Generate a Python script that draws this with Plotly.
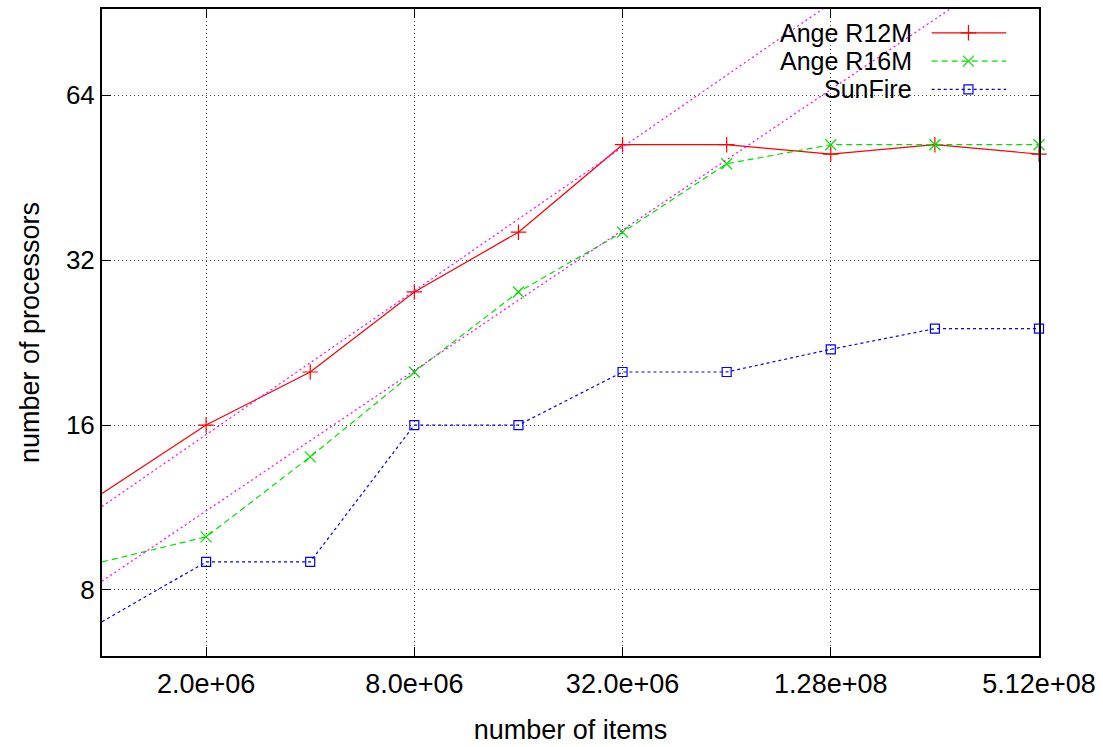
import math
import plotly.graph_objects as go

# ---- data ----
items = [1e6, 2e6, 4e6, 8e6, 16e6, 32e6, 64e6, 128e6, 256e6, 512e6]
ange_r12m = [12, 16, 20, 28, 36, 52, 52, 50, 52, 50]
ange_r16m = [9, 10, 14, 20, 28, 36, 48, 52, 52, 52]
sunfire = [7, 9, 9, 16, 16, 20, 20, 22, 24, 24]

# power-law fit lines f(x) = a * (x/1e6)^b
fit_r12m_a, fit_r12m_b = 11.36, 0.436
fit_r16m_a, fit_r16m_b = 8.3, 0.426

x_tickvals = [2e6, 8e6, 32e6, 1.28e8, 5.12e8]
x_ticktext = ["2.0e+06", "8.0e+06", "32.0e+06", "1.28e+08", "5.12e+08"]
y_tickvals = [8, 16, 32, 64]
y_ticktext = ["8", "16", "32", "64"]

series_names = ["Ange R12M", "Ange R16M", "SunFire"]

FONT = "Liberation Sans"
W, H = 1103, 747
L, R, T, B = 102, 58, 7, 88

fig = go.Figure()

styles = [
    dict(color="#ff0000", dash="solid", symbol="cross-thin", size=11),
    dict(color="#00e000", dash="6px,4px", symbol="x-thin", size=11),
    dict(color="#0000ff", dash="3px,3px", symbol="square-open", size=9),
]
for name, ys, st in zip(series_names, [ange_r12m, ange_r16m, sunfire], styles):
    fig.add_trace(go.Scatter(
        x=items, y=ys, mode="lines+markers", name=name, showlegend=False,
        line=dict(color=st["color"], width=1.2, dash=st["dash"]),
        marker=dict(symbol=st["symbol"], size=st["size"], color=st["color"],
                    line=dict(color=st["color"], width=1.2)),
        cliponaxis=False,
    ))

# fit lines (straight on log-log axes)
x_ends = [items[0], items[-1]]
for a, b in [(fit_r12m_a, fit_r12m_b), (fit_r16m_a, fit_r16m_b)]:
    fig.add_trace(go.Scatter(
        x=x_ends, y=[a * (xx / 1e6) ** b for xx in x_ends], mode="lines",
        showlegend=False, line=dict(color="#ff00ff", width=1.2, dash="2px,3px"),
    ))

# ---- manual gnuplot-style key (text right-aligned, sample on the right) ----
pw = W - L - R
ph = H - T - B
def px(xp):
    return (xp - L) / pw
def py(yp):
    return (H - B - yp) / ph

key_rows = [31, 59.5, 88]
key_text_x = 918
key_line = (937, 1012)
key_mark = 974

fig.add_shape(type="rect", xref="paper", yref="paper", layer="between",
              x0=px(770), x1=px(1028), y0=py(100), y1=1.0,
              fillcolor="white", line=dict(width=0))

for name, st, ry in zip(series_names, styles, key_rows):
    fig.add_annotation(x=px(key_text_x), y=py(ry), xref="paper", yref="paper",
                       text=name, showarrow=False, xanchor="right", yanchor="middle",
                       borderpad=0,
                       font=dict(family=FONT, size=25, color="black"))
    fig.add_trace(go.Scatter(
        x=[px(key_line[0]), px(key_line[1])], y=[py(ry), py(ry)], mode="lines",
        xaxis="x2", yaxis="y2", showlegend=False, hoverinfo="skip",
        line=dict(color=st["color"], width=1.2, dash=st["dash"]),
    ))
    fig.add_trace(go.Scatter(
        x=[px(key_mark)], y=[py(ry)], mode="markers",
        xaxis="x2", yaxis="y2", showlegend=False, hoverinfo="skip",
        marker=dict(symbol=st["symbol"], size=st["size"], color=st["color"],
                    line=dict(color=st["color"], width=1.2)),
    ))

axis_common = dict(
    showline=True, linecolor="black", linewidth=2, mirror="ticks",
    ticks="inside", ticklen=9, tickwidth=1, tickcolor="black",
    showgrid=True, gridcolor="#444444", gridwidth=1, griddash="1px,3px",
    zeroline=False,
)

fig.update_layout(
    width=W, height=H,
    margin=dict(l=L, r=R, t=T, b=B),
    plot_bgcolor="white", paper_bgcolor="white",
    xaxis=dict(type="log", range=[math.log10(1e6), math.log10(5.12e8)],
               tickvals=x_tickvals, ticktext=x_ticktext,
               tickfont=dict(family=FONT, size=27, color="black"),
               ticklabelstandoff=3,
               title=dict(text="number of items", font=dict(family=FONT, size=27, color="black"),
                          standoff=22),
               **axis_common),
    yaxis=dict(type="log", range=[math.log10(6.06), math.log10(92)],
               tickvals=y_tickvals, ticktext=y_ticktext,
               tickfont=dict(family=FONT, size=26, color="black"),
               title=dict(text="number of processors", font=dict(family=FONT, size=27, color="black"),
                          standoff=18),
               **axis_common),
    xaxis2=dict(overlaying="x", range=[0, 1], visible=False, fixedrange=True),
    yaxis2=dict(overlaying="y", range=[0, 1], visible=False, fixedrange=True),
    showlegend=False,
)

fig.write_html("out.html", config={"displayModeBar": False},
               post_script="document.body.style.margin='0';document.body.style.overflow='hidden';")
